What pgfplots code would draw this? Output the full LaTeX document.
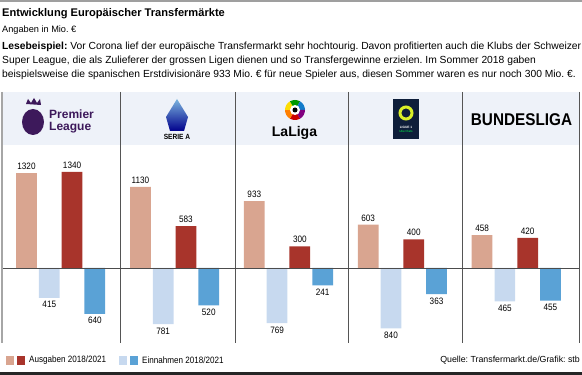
\documentclass[border=0pt]{standalone}
\usepackage{pgfplots}
\pgfplotsset{compat=1.18}
\usepackage{fontspec}
\setmainfont{Liberation Sans}
\newfontfamily\cond[FakeStretch=0.88]{Liberation Sans}
\newfontfamily\heavy[FakeStretch=0.9]{Liberation Sans}
\definecolor{cA18}{HTML}{D9A590}
\definecolor{cA21}{HTML}{A8342B}
\definecolor{cE18}{HTML}{C7D9EF}
\definecolor{cE21}{HTML}{5AA2D6}
\definecolor{band}{HTML}{EEF2F9}
\definecolor{plpurple}{HTML}{3D195B}
\definecolor{divc}{HTML}{555555}
\definecolor{lnavy}{HTML}{0E1E3A}
\definecolor{lyellow}{HTML}{DAF028}
\frenchspacing
\begin{document}
\begin{tikzpicture}
\path[use as bounding box] (0,0) rectangle (582pt,375pt);
\begin{scope}[x=1pt,y=-1pt,yshift=375pt]
  \fill[band] (3,92) rectangle (579,145);
\end{scope}
\begin{axis}[at={(3.72pt,32pt)}, anchor=south west, scale only axis,
  width=569.5pt, height=198pt, xmin=0, xmax=25, ymin=-1044.6, ymax=1713,
  hide axis, clip=false, ybar, bar width=0.91, bar shift=0pt,
  point meta=explicit,
  /pgf/number format/assume math mode=true,
  nodes near coords={\pgfmathprintnumber[fixed,precision=0,1000 sep={}]{\pgfplotspointmeta}},
  every node near coord/.append style={font=\cond\fontsize{9.3}{9}\selectfont, text=black}]
\addplot[fill=cA18, draw=none, every node near coord/.append style={anchor=south}]
  coordinates {(1,1320)[1320] (6,1130)[1130] (11,933)[933] (16,603)[603] (21,458)[458]};
\addplot[fill=cE18, draw=none, every node near coord/.append style={anchor=north}]
  coordinates {(2,-415)[415] (7,-781)[781] (12,-769)[769] (17,-840)[840] (22,-465)[465]};
\addplot[fill=cA21, draw=none, every node near coord/.append style={anchor=south}]
  coordinates {(3,1340)[1340] (8,583)[583] (13,300)[300] (18,400)[400] (23,420)[420]};
\addplot[fill=cE21, draw=none, every node near coord/.append style={anchor=north}]
  coordinates {(4,-640)[640] (9,-520)[520] (14,-241)[241] (19,-363)[363] (24,-455)[455]};
\end{axis}
\begin{scope}[x=1pt,y=-1pt,yshift=375pt]
  % frame lines
  \fill[gray!75] (0,0) rectangle (582,2);
  \fill[black!85] (0,372) rectangle (582,375);
  \draw[gray!70, line width=2pt] (1.5,92) -- (1.5,343);
  \draw[divc, line width=0.7pt] (579,92) -- (579,343);
  \foreach \xx in {120.7,235.3,348.3,462.3} \draw[divc, line width=0.7pt] (\xx,92) -- (\xx,343);
  \draw[black!70, line width=0.8pt] (3,268) -- (579,268);
  % titles
  \node[anchor=base west, inner sep=0, font=\bfseries\fontsize{11.1}{12}\selectfont] at (2,17) {Entwicklung Europäischer Transfermärkte};
  \node[anchor=base west, inner sep=0, font=\fontsize{9.2}{10}\selectfont] at (2,33) {Angaben in Mio. €};
  \node[anchor=base west, inner sep=0, font=\fontsize{10.3}{10}\selectfont] at (2,50) {\textbf{Lesebeispiel:} Vor Corona lief der europäische Transfermarkt sehr hochtourig. Davon profitierten auch die Klubs der Schweizer};
  \node[anchor=base west, inner sep=0, font=\fontsize{10.3}{10}\selectfont] at (2,64) {Super League, die als Zulieferer der grossen Ligen dienen und so Transfergewinne erzielen. Im Sommer 2018 gaben};
  \node[anchor=base west, inner sep=0, font=\fontsize{10.3}{10}\selectfont] at (2,78) {beispielsweise die spanischen Erstdivisionäre 933 Mio. € für neue Spieler aus, diesen Sommer waren es nur noch 300 Mio. €.};
  % Premier League logo
  \fill[plpurple] (33,122) ellipse (11 and 13);
  \fill[plpurple] (26,104) -- (28,99) -- (31,103) -- (34,98) -- (37,103) -- (40,99) -- (41,105) -- cycle;
  \node[anchor=north west, inner sep=0, text=plpurple, align=left, font=\bfseries\fontsize{12}{11.6}\selectfont] at (49,109.8) {Premier\\League};
  % Serie A logo
  \shade[top color=cE21!80!white, bottom color=blue!55!black] (177,99) -- (188,117) -- (184,131) -- (170,131) -- (166,117) -- cycle;
  \node[inner sep=0, font=\bfseries\cond\fontsize{7.5}{7.5}\selectfont] at (177,137) {SERIE A};
  % LaLiga logo
  \foreach \a/\c in {90/red!80!black,150/orange,210/yellow!80!orange,270/green!60!black,330/cyan!60!blue,30/violet}
    \fill[\c] (295,110) -- ++(\a-30:10) arc[start angle=\a-30, end angle=\a+30, radius=10] -- cycle;
  \fill[white] (295,110) circle (5);
  \fill[black] (295,110) circle (2.5);
  \node[inner sep=0, font=\bfseries\fontsize{14}{14}\selectfont] at (294.5,133) {LaLiga};
  % Ligue 1 logo
  \fill[lnavy] (393,99) rectangle (419,139);
  \draw[line width=3pt, lyellow] (406,113) circle (6);
  \node[inner sep=0, text=white, font=\bfseries\fontsize{3.2}{3}\selectfont] at (406,127) {LIGUE 1};
  \node[inner sep=0, text=green!70!cyan, font=\fontsize{3}{3}\selectfont] at (406,131) {Uber Eats};
  % Bundesliga
  \node[inner sep=0, font=\heavy\bfseries\fontsize{17}{17}\selectfont] at (521.5,119.5) {BUNDESLIGA};
  % legend
  \fill[cA18] (6,356) rectangle (14,365);
  \fill[cA21] (17,356) rectangle (25,365);
  \node[anchor=west, inner sep=0, font=\cond\fontsize{9.2}{9}\selectfont] at (29,360.5) {Ausgaben 2018/2021};
  \fill[cE18] (119,356) rectangle (127,365);
  \fill[cE21] (130,356) rectangle (138,365);
  \node[anchor=west, inner sep=0, font=\cond\fontsize{9.2}{9}\selectfont] at (142,360.5) {Einnahmen 2018/2021};
  \node[anchor=east, inner sep=0, font=\fontsize{8.8}{9}\selectfont] at (580,360.5) {Quelle: Transfermarkt.de/Grafik: stb};
\end{scope}
\end{tikzpicture}
\end{document}
